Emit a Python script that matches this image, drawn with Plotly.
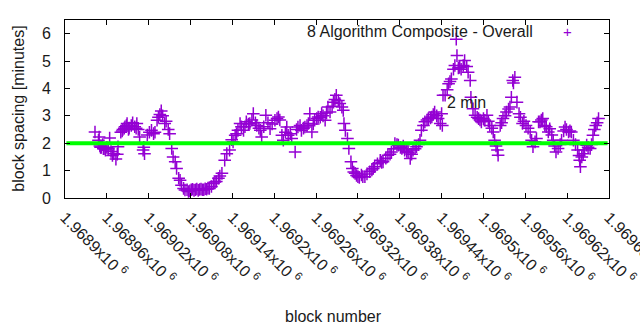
import plotly.graph_objects as go

# ---- data ----
blocks = [
    1968943, 1968948, 1968949, 1968950, 1968951, 1968952, 1968954, 1968955, 1968956, 1968958,
    1968960, 1968962, 1968964, 1968966, 1968968, 1968970, 1968973, 1968975, 1968976,
    1968980, 1968982, 1968983, 1968985, 1968986, 1968988, 1968989, 1968991, 1968992, 1968995,
    1968997, 1969000, 1969002, 1969003, 1969005, 1969007, 1969012, 1969013, 1969014,
    1969018, 1969021, 1969024, 1969027, 1969029, 1969032, 1969034, 1969036, 1969038, 1969040,
    1969043, 1969045, 1969048, 1969050, 1969053, 1969055, 1969058, 1969060, 1969063, 1969065,
    1969067, 1969070, 1969072, 1969075, 1969077, 1969079, 1969081, 1969083, 1969085, 1969087,
    1969089, 1969091, 1969093, 1969095, 1969097, 1969099, 1969101, 1969103, 1969105, 1969107,
    1969110, 1969113, 1969115, 1969117, 1969120, 1969122, 1969125, 1969129, 1969132, 1969136,
    1969139, 1969141, 1969144, 1969146, 1969148, 1969151, 1969153, 1969156, 1969158, 1969160,
    1969163, 1969165, 1969168, 1969170, 1969173, 1969175, 1969178, 1969180, 1969182, 1969185,
    1969188, 1969191, 1969194, 1969197, 1969201, 1969204, 1969206, 1969208, 1969211, 1969213,
    1969216, 1969218, 1969220, 1969223, 1969225, 1969230, 1969232, 1969234, 1969237, 1969239,
    1969242, 1969244, 1969247, 1969249, 1969251, 1969254, 1969256, 1969258, 1969261, 1969263,
    1969266, 1969268, 1969270, 1969273, 1969275, 1969277, 1969280, 1969283, 1969285, 1969287,
    1969289, 1969292, 1969294, 1969297, 1969299, 1969300, 1969302, 1969305, 1969307, 1969310,
    1969312, 1969314, 1969316, 1969318, 1969320, 1969322, 1969325, 1969327, 1969330, 1969333,
    1969337, 1969340, 1969342, 1969344, 1969348, 1969352, 1969354, 1969356, 1969360, 1969363,
    1969366, 1969368, 1969371, 1969373, 1969376, 1969378, 1969381, 1969383, 1969385, 1969387,
    1969390, 1969392, 1969395, 1969397, 1969399, 1969402, 1969404, 1969407, 1969409, 1969411,
    1969414, 1969416, 1969419, 1969421, 1969424, 1969426, 1969428, 1969430, 1969433, 1969435,
    1969438, 1969440, 1969441, 1969442, 1969445, 1969448, 1969450, 1969452, 1969454, 1969457,
    1969459, 1969461, 1969462, 1969464, 1969466, 1969468, 1969471, 1969473, 1969476, 1969478,
    1969481, 1969482, 1969485, 1969488, 1969491, 1969493, 1969495, 1969497, 1969500, 1969502,
    1969505, 1969507, 1969509, 1969512, 1969514, 1969516, 1969518, 1969520, 1969521, 1969524,
    1969526, 1969528, 1969531, 1969533, 1969536, 1969538, 1969540, 1969542, 1969543, 1969545,
    1969548, 1969551, 1969553, 1969556, 1969558, 1969561, 1969564, 1969567, 1969569, 1969571,
    1969574, 1969576, 1969579, 1969581, 1969583, 1969585, 1969588, 1969590, 1969593, 1969595,
    1969598, 1969600, 1969602, 1969604, 1969607, 1969610, 1969612, 1969615, 1969617, 1969619,
    1969622, 1969624, 1969626, 1969629, 1969632, 1969635, 1969637, 1969638, 1969639, 1969641,
    1969643, 1969645, 1969648, 1969650, 1969653, 1969655, 1969657, 1969659, 1969661, 1969663,
    1969665,
]
spacing = [
    2.41, 2.11, 2.23, 1.90, 1.85, 1.85, 1.95, 1.80, 1.80, 1.75,
    1.85, 1.80, 2.19, 1.70, 1.55, 1.62, 1.42, 1.60, 1.87,
    2.40, 2.45, 2.50, 2.55, 2.60, 2.65, 2.72, 2.50, 2.55, 2.65,
    2.75, 2.60, 2.55, 2.72, 2.50, 2.23, 1.75, 1.85, 1.62,
    2.30, 2.40, 2.47, 2.35, 2.40, 2.84, 2.95, 3.05, 3.18, 3.00,
    2.72, 2.80, 2.50, 2.35, 1.81, 1.50, 1.32, 1.08, 0.72, 0.65,
    0.47, 0.35, 0.29, 0.30, 0.24, 0.26, 0.30, 0.32, 0.28, 0.30,
    0.33, 0.28, 0.31, 0.33, 0.30, 0.30, 0.34, 0.32, 0.36, 0.35,
    0.42, 0.53, 0.58, 0.60, 0.72, 0.80, 0.90, 1.38, 1.62, 1.75,
    2.13, 2.05, 2.29, 2.35, 2.47, 2.72, 2.60, 2.47, 2.60, 2.78,
    2.70, 2.72, 2.85, 3.08, 2.75, 2.65, 2.55, 2.47, 2.23, 2.60,
    3.02, 2.75, 2.53, 2.70, 2.84, 2.90, 2.96, 2.85, 2.29, 2.11,
    2.40, 2.59, 2.29, 2.35, 2.17, 1.68, 2.50, 2.59, 2.65, 2.47,
    2.55, 2.59, 2.65, 2.72, 3.08, 2.41, 2.70, 2.84, 2.90, 2.96,
    2.95, 3.08, 3.00, 2.84, 3.10, 3.32, 3.14, 3.35, 3.50, 3.60,
    3.75, 3.56, 3.45, 3.32, 3.20, 2.72, 2.47, 2.17, 1.81, 1.32,
    1.08, 0.95, 0.90, 0.82, 0.78, 0.75, 0.84, 0.78, 0.78, 0.88,
    0.96, 1.02, 1.08, 1.14, 1.25, 1.38, 1.30, 1.32, 1.45, 1.56,
    1.60, 1.68, 1.80, 1.99, 1.95, 1.93, 1.85, 1.81, 1.90, 1.75,
    1.70, 1.65, 1.44, 1.60, 1.75, 1.80, 1.87, 1.95, 2.11, 2.47,
    2.65, 2.78, 2.85, 2.90, 2.92, 2.96, 3.05, 3.14, 3.00, 2.90,
    2.72, 3.08, 2.65, 3.75, 3.75, 3.95, 4.17, 4.25, 4.35, 4.70,
    4.84, 5.80, 5.20, 4.75, 4.77, 4.70, 4.84, 5.02, 4.80, 4.59,
    4.29, 3.68, 3.26, 3.02, 2.95, 2.90, 2.85, 2.78, 2.90, 2.84,
    3.02, 2.80, 2.65, 2.55, 2.41, 2.11, 1.90, 1.75, 1.56, 2.65,
    2.75, 2.90, 3.00, 3.14, 3.25, 3.32, 3.68, 4.29, 4.20, 4.41,
    3.50, 3.08, 2.95, 2.72, 2.80, 2.65, 2.55, 2.41, 2.11, 1.87,
    2.05, 2.17, 2.78, 2.78, 2.85, 2.90, 2.65, 2.60, 2.41, 2.53,
    2.30, 2.11, 1.90, 1.68, 1.81, 1.95, 2.11, 2.45, 2.59, 2.50,
    2.41, 2.45, 2.41, 2.11, 1.95, 1.75, 1.55, 1.38, 1.14, 1.50,
    1.62, 1.75, 1.93, 1.85, 1.81, 1.95, 2.29, 2.50, 2.65, 2.75,
    2.90,
]

# horizontal reference: 2 minutes target spacing
target_x = [1968902, 1969678]
target_y = [2, 2]

x_tickvals = [1968900 + 60 * i for i in range(14)]
x_ticktext = [
    "1.9689x10 <sup>6</sup>", "1.96896x10 <sup>6</sup>", "1.96902x10 <sup>6</sup>",
    "1.96908x10 <sup>6</sup>", "1.96914x10 <sup>6</sup>", "1.9692x10 <sup>6</sup>",
    "1.96926x10 <sup>6</sup>", "1.96932x10 <sup>6</sup>", "1.96938x10 <sup>6</sup>",
    "1.96944x10 <sup>6</sup>", "1.9695x10 <sup>6</sup>", "1.96956x10 <sup>6</sup>",
    "1.96962x10 <sup>6</sup>", "1.96968x10 <sup>6</sup>",
]
y_tickvals = [0, 1, 2, 3, 4, 5, 6]

FONT = "Liberation Sans, Arial, sans-serif"
FS = 16
PURPLE = "#9400d3"

fig = go.Figure()
fig.add_trace(go.Scatter(
    x=blocks, y=spacing, mode="markers",
    marker=dict(symbol="cross-thin-open", size=9, color=PURPLE,
                line=dict(width=1.5, color=PURPLE)),
    showlegend=False,
))
fig.add_trace(go.Scatter(
    x=target_x, y=target_y, mode="lines",
    line=dict(color="#00ff00", width=4),
    showlegend=False,
))

fig.update_layout(
    width=640, height=330,
    margin=dict(l=65, r=31, t=20, b=132, autoexpand=False),
    paper_bgcolor="white", plot_bgcolor="white",
    font=dict(family=FONT, size=FS, color="#1a1a1a"),
    showlegend=False,
    xaxis=dict(
        range=[1968900, 1969680], tickmode="array",
        tickvals=x_tickvals, ticktext=x_ticktext, tickangle=45,
        ticks="inside", ticklen=5, tickcolor="black",
        showline=True, linecolor="black", linewidth=1, mirror="ticks",
        showgrid=False, zeroline=False, ticklabelstandoff=3,
        ticklabeloverflow="allow", automargin=False,
    ),
    yaxis=dict(
        range=[0, 6.5], tickmode="array", tickvals=y_tickvals,
        ticks="inside", ticklen=5, tickcolor="black",
        showline=True, linecolor="black", linewidth=1, mirror="ticks",
        showgrid=False, zeroline=False, ticklabelstandoff=10,
        automargin=False,
    ),
    annotations=[
        dict(text="block number", xref="paper", yref="paper", x=0.493, y=-0.663,
             xanchor="center", yanchor="middle", showarrow=False,
             font=dict(size=FS, family=FONT)),
        dict(text="block spacing [minutes]", xref="paper", yref="paper", x=-0.087, y=0.5,
             xanchor="center", yanchor="middle", textangle=-90, showarrow=False,
             font=dict(size=FS, family=FONT)),
        dict(text="8 Algorithm Composite - Overall", xref="paper", yref="paper",
             x=0.8640, y=0.9326, xanchor="right", yanchor="middle", showarrow=False,
             font=dict(size=FS, family=FONT)),
        dict(text="+", xref="paper", yref="paper", x=0.9228, y=0.9326,
             xanchor="center", yanchor="middle", showarrow=False,
             font=dict(size=15, family=FONT, color=PURPLE)),
        dict(text="2 min", xref="x", yref="y", x=1969445, y=3.49,
             xanchor="left", yanchor="middle", showarrow=False,
             font=dict(size=FS, family=FONT)),
    ],
)

fig.write_html("out.html")
